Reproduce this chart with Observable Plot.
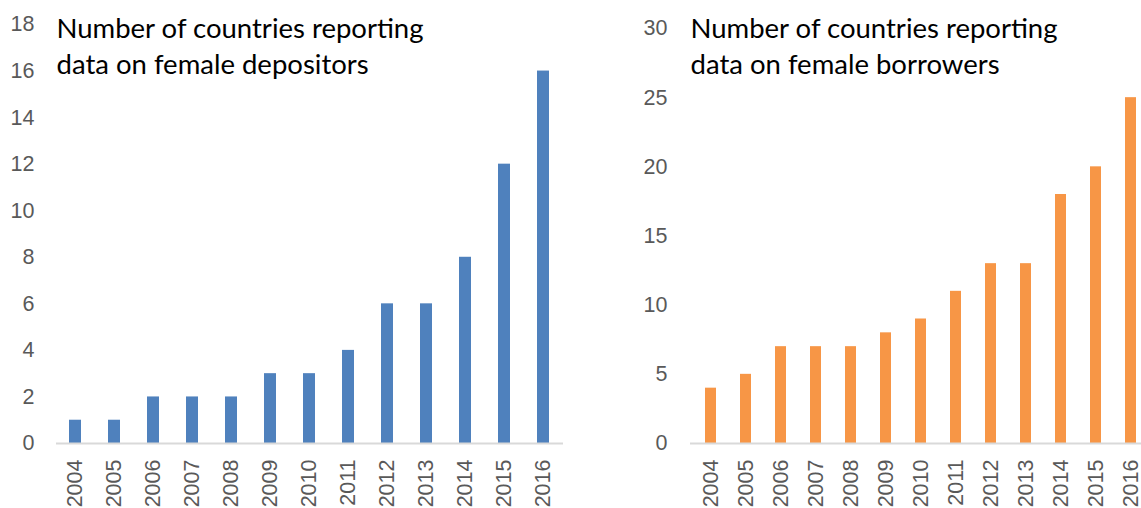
<!DOCTYPE html>
<html>
<head>
<meta charset="utf-8">
<script src="https://cdn.jsdelivr.net/npm/d3@7"></script>
<script src="https://cdn.jsdelivr.net/npm/@observablehq/plot@0.6"></script>
<style>
  html, body { margin: 0; padding: 0; background: #fff; }
  #wrap { display: flex; width: 1141px; height: 508px; }
</style>
</head>
<body>
<div id="wrap"></div>
<script>
const years = ["2004","2005","2006","2007","2008","2009","2010","2011","2012","2013","2014","2015","2016"];
const depositors = [1,1,2,2,2,3,3,4,6,6,8,12,16];
const borrowers = [4,5,7,7,7,8,9,11,13,13,18,20,25];
const depTicks = [0,2,4,6,8,10,12,14,16,18];
const borTicks = [0,5,10,15,20,25,30];
const titleDep = "Number of countries reporting\ndata on female depositors";
const titleBor = "Number of countries reporting\ndata on female borrowers";

const depData = years.map((y, i) => ({year: y, value: depositors[i]}));
const borData = years.map((y, i) => ({year: y, value: borrowers[i]}));

const axisFont = "Liberation Sans, Arial, sans-serif";
const titleFont = "Lato, 'Open Sans', sans-serif";
const titleSize = 27.5;
const tickSize = 21.5;

function panel({data, width, marginLeft, marginRight, marginTop, yMax, yTicks, color, title, paddingInner, paddingOuter, align, tickPad}) {
  return Plot.plot({
    width, height: 508,
    marginLeft, marginRight, marginTop, marginBottom: 65,
    style: {fontFamily: axisFont, background: "white", color: "#595959"},
    x: {domain: years, paddingInner, paddingOuter, align, label: null},
    y: {domain: [0, yMax], label: null},
    marks: [
      Plot.barY(data, {x: "year", y: "value", fill: color}),
      Plot.ruleY([0], {stroke: "#d9d9d9", strokeWidth: 2}),
      Plot.axisY(yTicks, {tickSize: 0, tickPadding: tickPad, fontSize: tickSize, fill: "#595959", label: null, tickFormat: d => String(d)}),
      Plot.axisX(years, {tickRotate: -90, tickSize: 0, tickPadding: 16, fontSize: tickSize, fill: "#595959", label: null}),
      Plot.text([title], {frameAnchor: "top-left", text: d => d, lineAnchor: "top", textAnchor: "start",
        fontSize: titleSize, fontFamily: titleFont, fill: "#000", lineHeight: 36 / titleSize, dx: 0,
        dy: 31 - marginTop - 0.71 * titleSize})
    ]
  });
}

const wrap = document.getElementById("wrap");
wrap.appendChild(panel({data: depData, width: 570, marginLeft: 56, marginRight: 7, marginTop: 24, yMax: 18, yTicks: depTicks,
  color: "#4f81bd", title: titleDep, paddingInner: 0.68, paddingOuter: 0.34, align: 0.5, tickPad: 22}));
wrap.appendChild(panel({data: borData, width: 571, marginLeft: 120, marginRight: 0, marginTop: 28, yMax: 30, yTicks: borTicks,
  color: "#f79646", title: titleBor, paddingInner: 0.686, paddingOuter: 0.27, align: 0.76, tickPad: 23}));
</script>
</body>
</html>
